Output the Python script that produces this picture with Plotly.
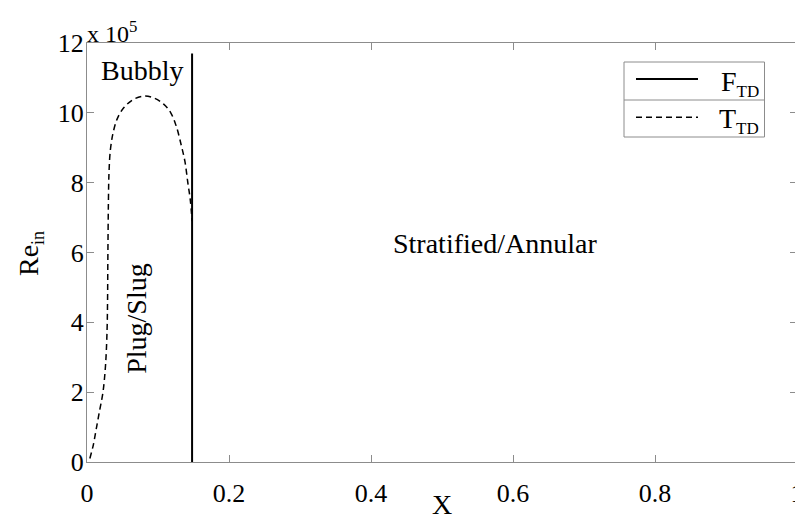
import plotly.graph_objects as go

# F_TD boundary (vertical line)
f_x = [0.148, 0.148]
f_y = [0, 11.7e5]

# T_TD boundary (dashed curve)
t_x = [0.004, 0.009, 0.0135, 0.018, 0.0225, 0.0262, 0.0283, 0.029, 0.0293, 0.0297, 0.0302,
       0.031, 0.033, 0.037, 0.043, 0.052, 0.065, 0.081, 0.095, 0.108, 0.118,
       0.126, 0.133, 0.138, 0.142, 0.1455, 0.148]
t_y = [0.1e5, 0.5e5, 1.0e5, 1.5e5, 2.0e5, 2.8e5, 3.8e5, 4.7e5, 5.6e5, 6.6e5, 7.5e5,
       8.3e5, 8.95e5, 9.45e5, 9.85e5, 10.15e5, 10.38e5, 10.48e5, 10.42e5, 10.25e5, 10.0e5,
       9.6e5, 9.05e5, 8.6e5, 8.0e5, 7.5e5, 6.9e5]

x_ticks = [0, 0.2, 0.4, 0.6, 0.8, 1]
x_ticktext = ["0", "0.2", "0.4", "0.6", "0.8", "1"]
y_ticks = [0, 2e5, 4e5, 6e5, 8e5, 10e5, 12e5]
y_ticktext = ["0", "2", "4", "6", "8", "10", "12"]

FONT = "Liberation Serif"
GRAY = "#8c8c8c"

fig = go.Figure()
fig.add_trace(go.Scatter(x=f_x, y=f_y, mode="lines", name="F<sub>TD</sub>",
                         line=dict(color="black", width=2), showlegend=False))
fig.add_trace(go.Scatter(x=t_x, y=t_y, mode="lines", name="T<sub>TD</sub>",
                         line=dict(color="black", width=1.5, dash="6px,4px", shape="spline"),
                         showlegend=False))

axis_common = dict(showgrid=False, zeroline=False, showline=True, linecolor=GRAY,
                   linewidth=1, mirror="ticks", ticks="inside", ticklen=7, automargin=False,
                   ticklabeloverflow="allow",
                   tickcolor=GRAY, tickfont=dict(family=FONT, size=26, color="black"))

fig.update_xaxes(range=[0, 1], tickvals=x_ticks, ticktext=x_ticktext,
                 ticklabelstandoff=8, **axis_common)
fig.update_yaxes(range=[0, 12e5], tickvals=y_ticks, ticktext=y_ticktext,
                 ticklabelstandoff=-3, **axis_common)

# plot area spans page pixels x 87..797, y 43..462
def px_x(p):
    return (p - 87) / 710

def px_y(p):
    return (462 - p) / 419

title_font = dict(family=FONT, size=28, color="black")
fig.add_annotation(x=px_x(442), y=px_y(504), xref="paper", yref="paper", text="X",
                   showarrow=False, font=title_font, yanchor="middle")
fig.add_annotation(x=px_x(30), y=px_y(254), xref="paper", yref="paper",
                   text="Re<sub><span style='font-size:18px'>in</span></sub>",
                   showarrow=False, font=title_font, textangle=-90, xanchor="center")

ann_font = dict(family=FONT, size=28, color="black")
fig.add_annotation(x=0.0775, y=11.2e5, text="Bubbly", showarrow=False, font=ann_font)
fig.add_annotation(x=0.0704, y=4.1e5, text="Plug/Slug", showarrow=False, font=ann_font, textangle=-90)
fig.add_annotation(x=0.575, y=6.27e5, text="Stratified/Annular", showarrow=False, font=ann_font)
fig.add_annotation(x=0, y=1.0, xref="paper", yref="paper", xanchor="left", yanchor="bottom",
                   text="x 10<sup>5</sup>", showarrow=False,
                   font=dict(family=FONT, size=24, color="black"), xshift=-2, yshift=-6)

# legend drawn as a box with two rows
fig.add_shape(type="rect", xref="paper", yref="paper", x0=px_x(624), x1=px_x(764.5),
              y0=px_y(137), y1=px_y(62), line=dict(color=GRAY, width=1), fillcolor="white")
fig.add_shape(type="line", xref="paper", yref="paper", x0=px_x(624), x1=px_x(764.5),
              y0=px_y(100), y1=px_y(100), line=dict(color=GRAY, width=1))
fig.add_shape(type="line", xref="paper", yref="paper", x0=px_x(636), x1=px_x(698),
              y0=px_y(79), y1=px_y(79), line=dict(color="black", width=2))
fig.add_shape(type="line", xref="paper", yref="paper", x0=px_x(636), x1=px_x(698),
              y0=px_y(117.3), y1=px_y(117.3), line=dict(color="black", width=1.5, dash="6px,4px"))
leg_font = dict(family=FONT, size=28, color="black")
fig.add_annotation(x=px_x(761), y=px_y(83), xref="paper", yref="paper", xanchor="right",
                   yanchor="middle", text="F<sub><span style='font-size:17px'>TD</span></sub>",
                   showarrow=False, font=leg_font)
fig.add_annotation(x=px_x(761), y=px_y(120), xref="paper", yref="paper", xanchor="right",
                   yanchor="middle", text="T<sub><span style='font-size:17px'>TD</span></sub>",
                   showarrow=False, font=leg_font)

fig.update_layout(
    width=795, height=510,
    margin=dict(l=79, r=6, t=35, b=56),
    paper_bgcolor="white", plot_bgcolor="white",
    showlegend=False,
)

fig.write_html("out.html")
